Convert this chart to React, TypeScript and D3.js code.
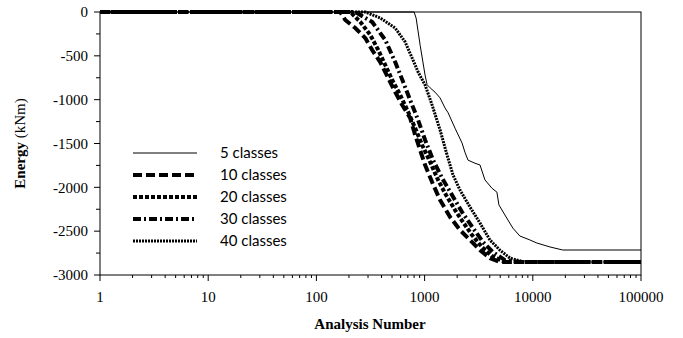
import React from 'react';
import * as d3 from 'd3';

const xTickValues = [1, 10, 100, 1000, 10000, 100000];
const xTickLabels = ['1', '10', '100', '1000', '10000', '100000'];
const yTickValues = [0, -500, -1000, -1500, -2000, -2500, -3000];

const legendLabels = ['5 classes', '10 classes', '20 classes', '30 classes', '40 classes'];

const n5 = [1, 800, 835, 910, 1010, 1055, 1125, 1250, 1390, 1545, 1650, 1910, 2220, 2360, 2520, 2920, 3250, 3610, 4190, 4660, 4860, 5520, 6540, 7590, 9390, 10900, 14400, 18900, 100000];
const e5 = [0, 0, -70, -380, -720, -830, -865, -915, -980, -1095, -1150, -1325, -1495, -1600, -1690, -1725, -1745, -1915, -2010, -2055, -2200, -2315, -2465, -2555, -2600, -2635, -2680, -2715, -2715];

const n10 = [1, 166, 185, 229, 283, 328, 389, 461, 535, 621, 735, 818, 909, 1011, 1173, 1390, 1719, 2125, 2627, 3249, 4017, 4966, 100000];
const e10 = [0, 0, -91, -183, -297, -434, -571, -753, -913, -1061, -1209, -1403, -1575, -1746, -1940, -2145, -2339, -2487, -2601, -2716, -2807, -2852, -2852];

const n20 = [1, 206, 255, 315, 373, 433, 502, 595, 705, 818, 949, 1124, 1332, 1579, 1911, 2265, 2742, 3389, 4192, 5523, 100000];
const e20 = [0, 0, -114, -262, -434, -605, -776, -947, -1141, -1324, -1517, -1711, -1917, -2088, -2259, -2396, -2544, -2681, -2784, -2852, -2852];

const n30 = [1, 229, 328, 433, 535, 634, 735, 871, 1011, 1198, 1450, 1793, 2217, 2801, 3463, 4281, 5523, 7592, 100000];
const e30 = [0, 0, -114, -319, -571, -799, -1004, -1232, -1460, -1689, -1894, -2088, -2282, -2464, -2624, -2738, -2830, -2852, -2852];

const n40 = [1, 283, 389, 535, 661, 767, 871, 1011, 1173, 1390, 1613, 1832, 2125, 2627, 3249, 4017, 4966, 6140, 8443, 100000];
const e40 = [0, 0, -68, -183, -342, -525, -685, -833, -1061, -1346, -1631, -1860, -2031, -2225, -2407, -2601, -2716, -2807, -2852, -2852];

const seriesN = [n5, n10, n20, n30, n40];
const seriesE = [e5, e10, e20, e30, e40];

const styles = [
  { width: 1, dash: 'none' },
  { width: 4, dash: '9 4' },
  { width: 4, dash: '4 2' },
  { width: 4, dash: '8 3 2 3' },
  { width: 3, dash: '2 1' },
];

const W = 683;
const H = 338;
const left = 100;
const right = 641;
const top = 12;
const bottom = 275;

export default function App() {
  const x = d3.scaleLog().domain([1, 100000]).range([left, right]);
  const y = d3.scaleLinear().domain([0, -3000]).range([top, bottom]);
  const line = d3
    .line<[number, number]>()
    .x((d) => x(d[0]))
    .y((d) => y(d[1]));

  const minorX: number[] = [];
  for (let d = 1; d < 100000; d *= 10) {
    for (let k = 2; k <= 9; k++) minorX.push(d * k);
  }
  const minorY = d3.range(0, -3001, -250);

  const serif = '"Liberation Serif", "Times New Roman", serif';
  const legendFont = 'Lato, "Open Sans", sans-serif';

  return (
    <svg
      width={W}
      height={H}
      style={{ position: 'absolute', left: 0, top: 0, background: '#fff' }}
    >
      <rect x={0} y={0} width={W} height={H} fill="#fff" />
      {seriesN.map((ns, i) => {
        const pts: [number, number][] = ns.map((n, j) => [n, seriesE[i][j]]);
        return (
          <path
            key={i}
            d={line(pts) || ''}
            fill="none"
            stroke="#000"
            strokeWidth={styles[i].width}
            strokeDasharray={styles[i].dash}
            strokeLinejoin="round"
          />
        );
      })}
      <rect x={left} y={top} width={right - left} height={bottom - top} fill="none" stroke="#000" strokeWidth={1} />
      {minorY.map((v) => (
        <line key={'ym' + v} x1={left} x2={left - (v % 500 === 0 ? 6 : 4)} y1={y(v)} y2={y(v)} stroke="#000" strokeWidth={1} />
      ))}
      {yTickValues.map((v) => (
        <text key={'yl' + v} x={left - 12} y={y(v)} dy="0.35em" textAnchor="end" fontFamily={serif} fontSize={15}>
          {String(v)}
        </text>
      ))}
      {minorX.map((v) => (
        <line key={'xm' + v} x1={x(v)} x2={x(v)} y1={bottom} y2={bottom + 3} stroke="#000" strokeWidth={1} />
      ))}
      {xTickValues.map((v, i) => (
        <g key={'xt' + v}>
          <line x1={x(v)} x2={x(v)} y1={bottom} y2={bottom + 6} stroke="#000" strokeWidth={1} />
          <text x={x(v)} y={bottom + 27} textAnchor="middle" fontFamily={serif} fontSize={15}>
            {xTickLabels[i]}
          </text>
        </g>
      ))}
      <text x={370} y={329} textAnchor="middle" fontFamily={serif} fontSize={15} fontWeight="bold">
        Analysis Number
      </text>
      <text transform={`translate(25,${(top + bottom) / 2}) rotate(-90)`} textAnchor="middle" fontFamily={serif} fontSize={15}>
        <tspan fontWeight="bold">Energy</tspan>
        <tspan> (kNm)</tspan>
      </text>
      {legendLabels.map((lab, i) => {
        const ly = 153 + i * 22;
        return (
          <g key={lab}>
            <line x1={133} x2={197} y1={ly} y2={ly} stroke="#000" strokeWidth={styles[i].width} strokeDasharray={styles[i].dash} />
            <text x={220} y={ly} dy="0.35em" fontFamily={legendFont} fontSize={15}>
              {lab}
            </text>
          </g>
        );
      })}
    </svg>
  );
}
